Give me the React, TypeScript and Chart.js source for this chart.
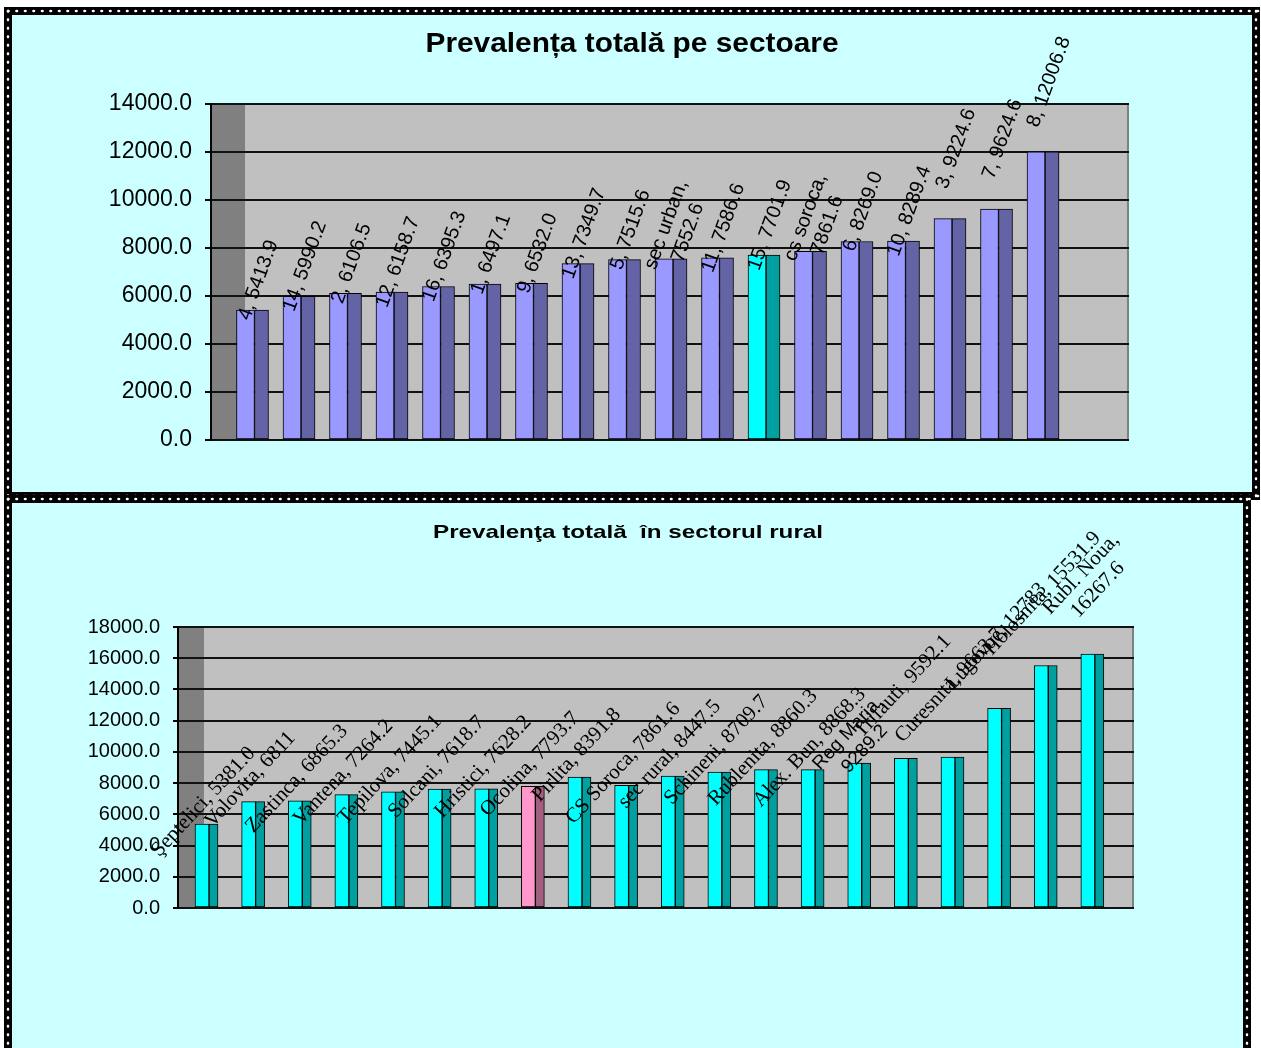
import React, { useEffect, useRef } from 'react';
import { Chart, registerables } from 'chart.js';

Chart.register(...registerables);

// ---------- Top chart data ----------
const sectorTitle = 'Prevalența totală pe sectoare';
const sectorCategories = ['4', '14', '2', '12', '16', '1', '9', '13', '5', 'sec urban', '11', '15', 'cs soroca', '6', '10', '3', '7', '8'];
const sectorValues = [5413.9, 5990.2, 6106.5, 6158.7, 6395.3, 6497.1, 6532.0, 7349.7, 7515.6, 7552.6, 7586.6, 7701.9, 7861.6, 8269.0, 8289.4, 9224.6, 9624.6, 12006.8];
const sectorWrapped = ['sec urban', 'cs soroca'];
const sectorHighlight = '15';
const sectorAxisMax = 14000;
const sectorAxisStep = 2000;

// ---------- Bottom chart data ----------
const ruralTitle = 'Prevalenţa totală  în sectorul rural';
const ruralCategories = ['Şeptelici', 'Volovita', 'Zastinca', 'Vantena', 'Tepilova', 'Solcani', 'Hristici', 'Ocolina', 'Pirlita', 'CS Soroca', 'sec rural', 'Schineni', 'Rublenita', 'Alex. Bun', 'Reg Maria', 'Trifauti', 'Curesnita', 'Lugovoe', 'Holosnita', 'Rubl. Noua'];
const ruralValues = [5381.0, 6811, 6865.3, 7264.2, 7445.1, 7618.7, 7628.2, 7793.7, 8391.8, 7861.6, 8447.5, 8709.7, 8860.3, 8868.3, 9289.2, 9592.1, 9663.7, 12783, 15531.9, 16267.6];
const ruralValueText = ['5381.0', '6811', '6865.3', '7264.2', '7445.1', '7618.7', '7628.2', '7793.7', '8391.8', '7861.6', '8447.5', '8709.7', '8860.3', '8868.3', '9289.2', '9592.1', '9663.7', '12783', '15531.9', '16267.6'];
const ruralWrapped = ['Reg Maria', 'Rubl. Noua'];
const ruralSans = ['Reg Maria'];
const ruralHighlight = 'Ocolina';
const ruralAxisMax = 18000;
const ruralAxisStep = 2000;

// ---------- styles ----------
const SANS = '"Liberation Sans", Arial, sans-serif';
const SERIF = '"Liberation Serif", "Times New Roman", serif';
const PANEL_BG = '#CCFFFF';

function titlePlugin(text: string, font: string, cx: number, baseY: number, targetW: number) {
  return {
    id: 'stretchTitle',
    afterDraw(chart: any) {
      const ctx = chart.ctx;
      ctx.save();
      ctx.font = font;
      const w = ctx.measureText(text).width;
      ctx.translate(cx, baseY);
      ctx.scale(targetW / w, 1);
      ctx.textAlign = 'center';
      ctx.textBaseline = 'alphabetic';
      ctx.fillStyle = '#000';
      ctx.fillText(text, 0, 0);
      ctx.restore();
    },
  };
}

function wallsPlugin(sideW: number) {
  return {
    id: 'walls3d',
    beforeDraw(chart: any) {
      const { ctx, chartArea } = chart;
      const { left, right, top, bottom } = chartArea;
      ctx.save();
      ctx.fillStyle = '#808080';
      ctx.fillRect(left, top, sideW, bottom - top);
      ctx.fillStyle = '#C0C0C0';
      ctx.fillRect(left + sideW, top, right - left - sideW, bottom - top);
      ctx.strokeStyle = '#808080';
      ctx.lineWidth = 2;
      ctx.beginPath();
      ctx.moveTo(right - 1, top);
      ctx.lineTo(right - 1, bottom);
      ctx.stroke();
      ctx.restore();
    },
  };
}

function labelsPlugin(
  texts: string[],
  values: number[],
  angle: number,
  dx: number,
  lift: (v: number) => number,
  font: (i: number) => string,
  lineH: number
) {
  return {
    id: 'barLabels',
    afterDatasetsDraw(chart: any) {
      const ctx = chart.ctx;
      const meta = chart.getDatasetMeta(0);
      meta.data.forEach((el: any, i: number) => {
        const { x, y } = el.getProps(['x', 'y'], true);
        const lines = texts[i].split('\n');
        ctx.save();
        ctx.translate(x + dx, y + lift(values[i]));
        ctx.rotate((angle * Math.PI) / 180);
        ctx.font = font(i);
        ctx.fillStyle = '#000';
        ctx.textAlign = 'center';
        ctx.textBaseline = 'middle';
        lines.forEach((ln, j) => ctx.fillText(ln, 0, (j - (lines.length - 1) / 2) * lineH));
        ctx.restore();
      });
    },
  };
}

function buildSectorChart(canvas: HTMLCanvasElement) {
  const pts = sectorValues.map((v, i) => ({ x: i, y: v }));
  const texts = sectorCategories.map(
    (c, i) => c + ',' + (sectorWrapped.includes(c) ? '\n' : ' ') + sectorValues[i].toFixed(1)
  );
  return new Chart(canvas, {
    type: 'bar',
    data: {
      datasets: [
        {
          data: pts,
          backgroundColor: sectorCategories.map((c) => (c === sectorHighlight ? '#00FFFF' : '#9999FF')),
          borderColor: '#000',
          borderWidth: 1,
          borderSkipped: false,
          barThickness: 18,
        } as any,
        {
          data: pts,
          backgroundColor: sectorCategories.map((c) => (c === sectorHighlight ? '#00A0A0' : '#6363A6')),
          borderColor: '#000',
          borderWidth: 1,
          borderSkipped: false,
          barThickness: 14,
        } as any,
      ],
    },
    options: {
      animation: false,
      responsive: false,
      devicePixelRatio: 1,
      layout: { padding: { left: 0, top: 89, right: 123, bottom: 52 } },
      plugins: { legend: { display: false }, tooltip: { enabled: false }, title: { display: false } },
      scales: {
        x: { type: 'linear', min: -0.9355, max: 18.806, offset: false, bounds: 'data', display: false, grid: { offset: false } },
        y: {
          min: 0,
          max: sectorAxisMax,
          ticks: {
            stepSize: sectorAxisStep,
            callback: (v: any) => Number(v).toFixed(1),
            font: { family: SANS, size: 23 },
            color: '#000',
            padding: 13,
          },
          grid: { color: '#111', lineWidth: 2, tickLength: 6, tickColor: '#000' },
          border: { color: '#000', width: 2 },
          afterFit: (s: any) => {
            s.width = 199;
          },
        },
      },
    } as any,
    plugins: [
      wallsPlugin(34),
      labelsPlugin(texts, sectorValues, -70, 13, (v) => (v >= 8290 ? -70 : -30), () => `20px ${SANS}`, 23),
      titlePlugin(sectorTitle, `bold 28px ${SANS}`, 620, 37, 413),
    ],
  });
}

function buildRuralChart(canvas: HTMLCanvasElement) {
  const pts = ruralValues.map((v, i) => ({ x: i, y: v }));
  const texts = ruralCategories.map(
    (c, i) => c + ',' + (ruralWrapped.includes(c) ? '\n' : ' ') + ruralValueText[i]
  );
  return new Chart(canvas, {
    type: 'bar',
    data: {
      datasets: [
        {
          data: pts,
          backgroundColor: ruralCategories.map((c) => (c === ruralHighlight ? '#FF99CC' : '#00FFFF')),
          borderColor: '#000',
          borderWidth: 1,
          borderSkipped: false,
          barThickness: 14,
        } as any,
        {
          data: pts,
          backgroundColor: ruralCategories.map((c) => (c === ruralHighlight ? '#A35F80' : '#00A0A0')),
          borderColor: '#000',
          borderWidth: 1,
          borderSkipped: false,
          barThickness: 9,
        } as any,
      ],
    },
    options: {
      animation: false,
      responsive: false,
      devicePixelRatio: 1,
      layout: { padding: { left: 0, top: 124, right: 109, bottom: 140 } },
      plugins: { legend: { display: false }, tooltip: { enabled: false }, title: { display: false } },
      scales: {
        x: { type: 'linear', min: -0.665, max: 19.84, offset: false, bounds: 'data', display: false, grid: { offset: false } },
        y: {
          min: 0,
          max: ruralAxisMax,
          ticks: {
            stepSize: ruralAxisStep,
            callback: (v: any) => Number(v).toFixed(1),
            font: { family: SANS, size: 20 },
            color: '#000',
            padding: 13,
          },
          grid: { color: '#111', lineWidth: 2, tickLength: 5, tickColor: '#000' },
          border: { color: '#000', width: 2 },
          afterFit: (s: any) => {
            s.width = 166;
          },
        },
      },
    } as any,
    plugins: [
      wallsPlugin(26),
      labelsPlugin(
        texts,
        ruralValues,
        -47,
        1.5,
        (v) => (v >= 9500 ? -72 : -22),
        (i) => (ruralSans.includes(ruralCategories[i]) ? `19px ${SANS}` : `21px ${SERIF}`),
        23
      ),
      titlePlugin(ruralTitle, `bold 19px ${SANS}`, 616, 35, 390),
    ],
  });
}

function ChartCanvas({ width, height, build }: { width: number; height: number; build: (c: HTMLCanvasElement) => Chart }) {
  const ref = useRef<HTMLCanvasElement>(null);
  useEffect(() => {
    const chart = build(ref.current as HTMLCanvasElement);
    return () => chart.destroy();
  }, []);
  return (
    <canvas
      ref={ref}
      width={width}
      height={height}
      style={{ position: 'absolute', left: 0, top: 0, width, height, display: 'block' }}
    />
  );
}

const DOTS = 'radial-gradient(circle at center, #ffffff 0 1.1px, rgba(255,255,255,0) 1.7px)';

function Panel({ x, y, w, h, children }: { x: number; y: number; w: number; h: number; children?: any }) {
  const B = 8;
  const strip = (s: any, size: string) => (
    <div style={{ position: 'absolute', backgroundImage: DOTS, backgroundSize: size, ...s }} />
  );
  return (
    <div style={{ position: 'absolute', left: x, top: y, width: w, height: h, background: '#000' }}>
      {strip({ left: 0, top: 0, width: w, height: B }, `8.5px ${B}px`)}
      {strip({ left: 0, top: h - B, width: w, height: B }, `8.5px ${B}px`)}
      {strip({ left: 0, top: 0, width: B, height: h }, `${B}px 8.5px`)}
      {strip({ left: w - B, top: 0, width: B, height: h }, `${B}px 8.5px`)}
      <div style={{ position: 'absolute', left: B, top: B, width: w - 2 * B, height: h - 2 * B, background: PANEL_BG, overflow: 'hidden' }}>
        {children}
      </div>
    </div>
  );
}

export default function App() {
  return (
    <div style={{ position: 'fixed', left: 0, top: 0, width: 1261, height: 1048, overflow: 'hidden', background: '#fff' }}>
      <Panel x={4} y={7} w={1256} h={493}>
        <ChartCanvas width={1240} height={477} build={buildSectorChart} />
      </Panel>
      <Panel x={4} y={495} w={1247} h={570}>
        <ChartCanvas width={1231} height={545} build={buildRuralChart} />
      </Panel>
    </div>
  );
}
